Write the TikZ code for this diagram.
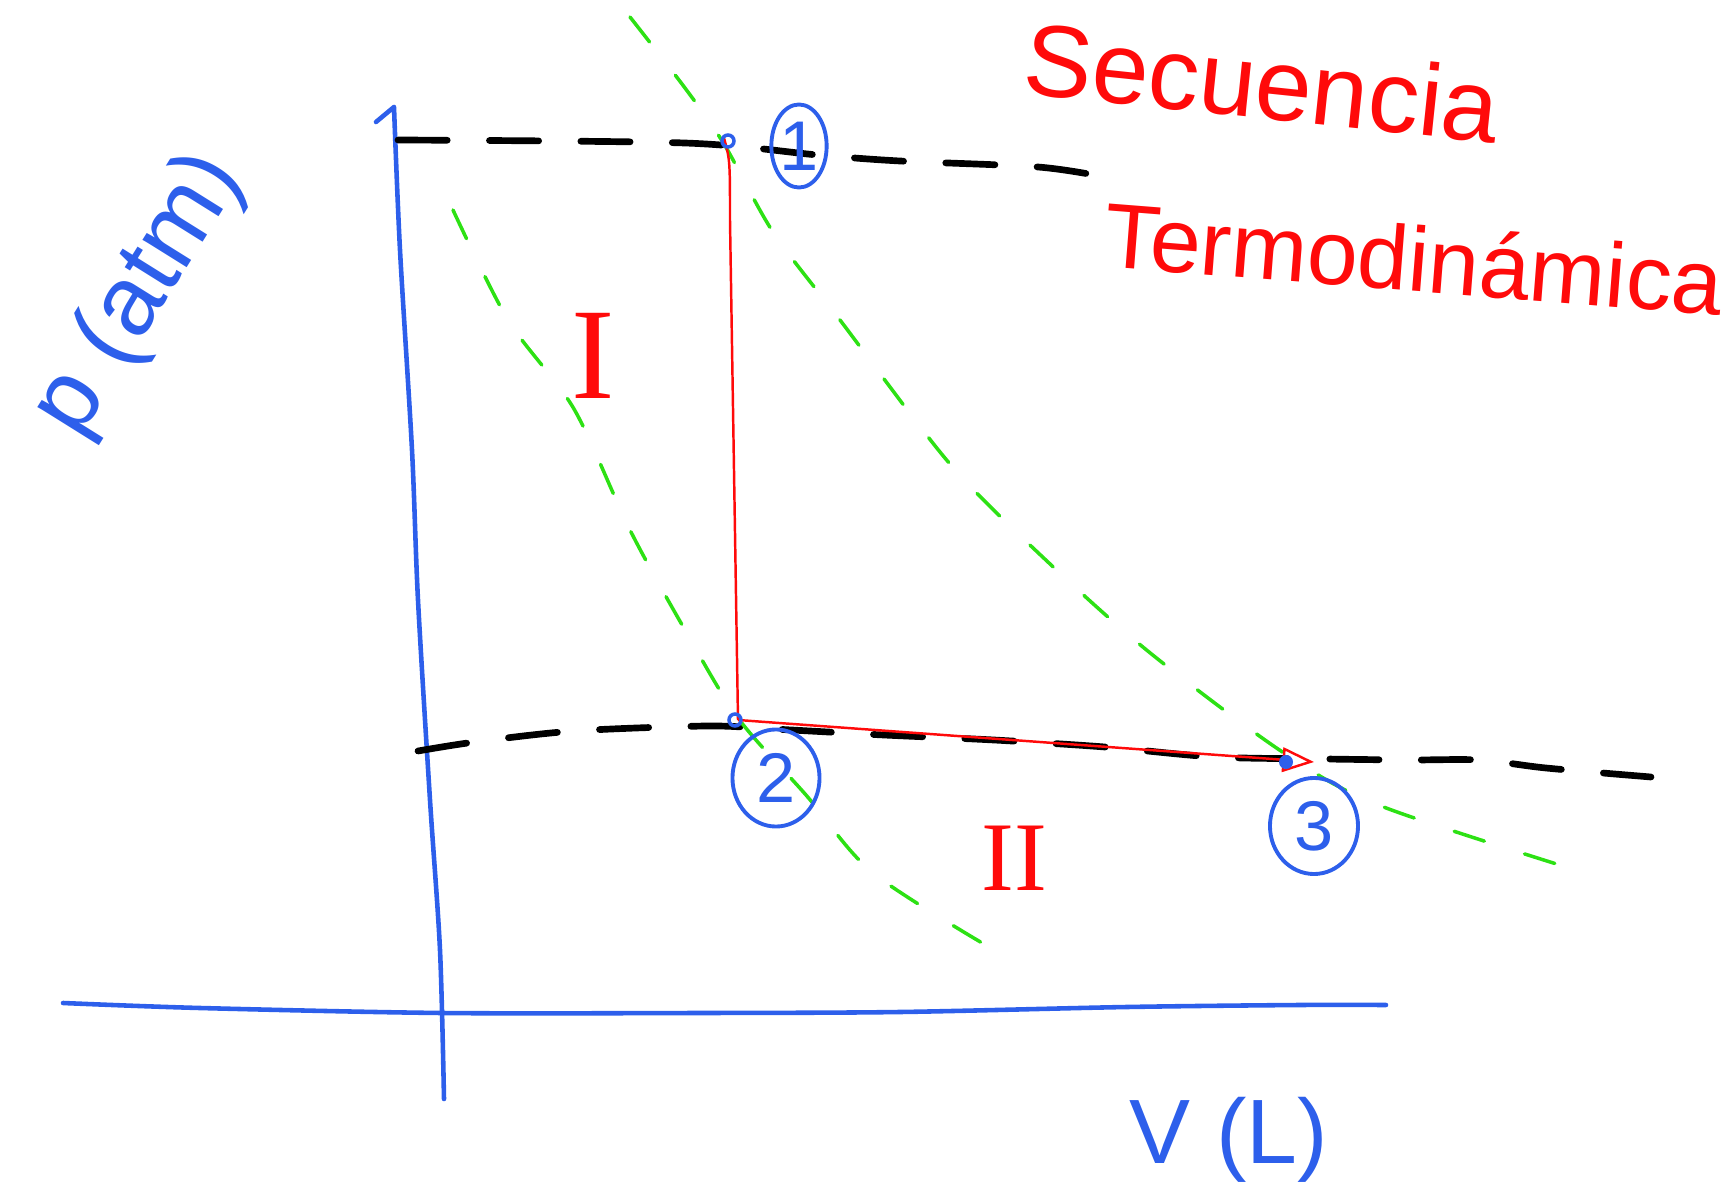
\documentclass[tikz,border=0pt]{standalone}
\usepackage{fontspec}
\setmainfont{Liberation Sans}
\newfontfamily\numfont{Liberation Serif}
\usetikzlibrary{shapes.geometric,arrows.meta}
\definecolor{penblue}{RGB}{45,95,235}
\definecolor{penred}{RGB}{255,10,10}
\definecolor{pengreen}{RGB}{45,225,20}
\begin{document}
\begin{tikzpicture}[x=0.01cm,y=-0.01cm,
  axis/.style={penblue,line width=1.3pt,line cap=round,line join=round},
  guide/.style={black,line width=1.9pt,line cap=round,dash pattern=on 14pt off 12pt},
  curve/.style={pengreen,line width=1pt,line cap=round,dash pattern=on 9pt off 12pt},
  process/.style={penred,line width=0.7pt},
  state/.style={ellipse,draw=penblue,line width=1.1pt,inner sep=0pt,text=penblue,font=\fontsize{20}{20}\selectfont},
  handtext/.style={text=penred,inner sep=0pt},
  axistext/.style={text=penblue,inner sep=0pt},
  stage/.style={text=penred,inner sep=0pt}]
\useasboundingbox (0,0) rectangle (1732,1200);
\coordinate (p1) at (724,138);
\coordinate (p2) at (738,720);
\coordinate (p3) at (1314,762);
\draw[axis] (376,122) -- (394,107) plot[smooth] coordinates {(394,107) (400,250) (412,450) (418,600) (430,800) (440,950) (444,1099)};
\draw[axis] plot[smooth] coordinates {(63,1003) (200,1008) (442,1013) (700,1013) (900,1012) (1127,1007) (1300,1005) (1386,1005)};
\draw[guide] plot[smooth] coordinates {(398,140) (685,143) (818,155) (900,161) (1038,167) (1105,177)};
\draw[guide] plot[smooth] coordinates {(418,751) (475,742) (574,731) (707,726) (773,729) (884,735) (994,740) (1105,747) (1215,757) (1326,759) (1408,760) (1480,760) (1546,768) (1651,777)};
\draw[curve] plot[smooth] coordinates {(453,210) (508,320) (574,409) (630,530) (685,630) (738,718) (806,795) (873,873) (994,950)};
\draw[curve] plot[smooth] coordinates {(630,17) (685,88) (724,144) (773,232) (840,320) (950,464) (1049,563) (1149,652) (1281,751) (1381,806) (1595,876)};
\draw[process] (p1) .. controls (730,160) .. (730,220) -- (p2);
\draw[process,-{Triangle[open,length=9pt,width=7pt]}] (p2) -- (p3);
\draw[penblue,line width=1pt] (p1) ++(4,3) circle (6);
\draw[penblue,line width=1pt] (p2) ++(-3,0) circle (6);
\fill[penblue] (p3) ++(-28,0) circle (7);
\node[state,minimum width=0.55cm,minimum height=0.83cm] (c1) at (799,146) {1};
\node[state,minimum width=0.87cm,minimum height=0.97cm] (c2) at (776,778) {2};
\node[state,minimum width=0.88cm,minimum height=0.96cm] (c3) at (1314,826) {3};
\node[stage,font=\numfont\fontsize{37}{37}\selectfont] (st1) at (593,356) {I};
\node[stage,font=\numfont\fontsize{28}{28}\selectfont] (st2) at (1014,858) {II};
\node[handtext,rotate=-6,font=\fontsize{29}{29}\selectfont] (seq) at (1262,82) {Secuencia};
\node[handtext,rotate=-4.5,font=\fontsize{26}{26}\selectfont] (termo) at (1414,258) {Termodinámica};
\node[axistext,rotate=58,font=\fontsize{28}{28}\selectfont] (plabel) at (140,295) {p (atm)};
\node[axistext,font=\fontsize{26}{26}\selectfont] (vlabel) at (1229,1140) {V (L)};
\end{tikzpicture}
\end{document}
